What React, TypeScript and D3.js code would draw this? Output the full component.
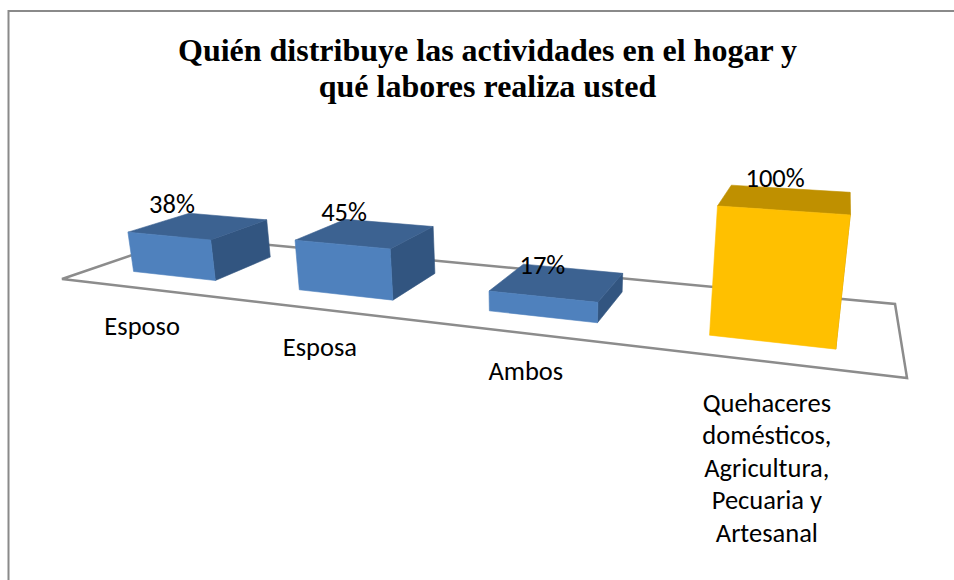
import React from "react";
import * as d3 from "d3";

const categories = ["Esposo", "Esposa", "Ambos", "Quehaceres"];
const values = [38, 45, 17, 100];
const valueLabels = ["38%", "45%", "17%", "100%"];
const categoryLines = [
  ["Esposo"],
  ["Esposa"],
  ["Ambos"],
  ["Quehaceres", "domésticos,", "Agricultura,", "Pecuaria y", "Artesanal"],
];
const titleLines = [
  "Quién distribuye las actividades en el hogar y",
  "qué labores realiza usted",
];
const barColors = [
  { front: "#4F81BD", top: "#3C6291", side: "#325580" },
  { front: "#4F81BD", top: "#3C6291", side: "#325580" },
  { front: "#4F81BD", top: "#3C6291", side: "#325580" },
  { front: "#FFC000", top: "#BF9000", side: "#BF9000" },
];

const W = 954;
const H = 580;

// Floor homography (unit square -> screen) plus a vertical vanishing point
const M = { a: 605.3, b: 157.35, c: 62, d: -0.9, e: 2.0, f: 279, g: -0.2643, h: 0.18567 };
const VP = { x: 540, y: 3087 };

const uScale = d3.scaleBand<string>().domain(categories).range([0, 0.997]).paddingInner(0.49).paddingOuter(0.245);
const vScale = d3.scaleLinear().domain([0, 1]).range([0.245, 0.755]);
const hScale = d3.scaleLinear().domain([0, 100]).range([0, -0.0373]);

function project(u: number, v: number, value: number): [number, number] {
  const t = hScale(value);
  const w = M.g * u + M.h * v + 1 + t;
  return [
    (M.a * u + M.b * v + M.c + t * VP.x) / w,
    (M.d * u + M.e * v + M.f + t * VP.y) / w,
  ];
}

const line = d3.line<[number, number]>().x((d) => d[0]).y((d) => d[1]).curve(d3.curveLinearClosed);

const LABEL_FONT = "Carlito, Calibri, Lato, sans-serif";
const LABEL_SIZE = 26.5;

export default function App() {
  const floor: [number, number][] = [
    project(0, 0, 0),
    project(1, 0, 0),
    project(1, 1, 0),
    project(0, 1, 0),
  ];
  return (
    <svg
      width={W}
      height={H}
      viewBox={`0 0 ${W} ${H}`}
      style={{ position: "absolute", left: 0, top: 0, background: "#fff" }}
    >
      <path d={`M8.5,${H}V11H${W}`} fill="none" stroke="#8a8a8a" strokeWidth={2} />
      {titleLines.map((t, i) => (
        <text
          key={t}
          x={487.5}
          y={61 + i * 36}
          textAnchor="middle"
          fontFamily="'Liberation Serif', serif"
          fontWeight="bold"
          fontSize={32}
          fill="#000"
        >
          {t}
        </text>
      ))}
      <path d={line(floor) ?? ""} fill="none" stroke="#8c8c8c" strokeWidth={2.5} strokeLinejoin="miter" />
      {categories.map((c, i) => {
        const u0 = uScale(c) ?? 0;
        const u1 = u0 + uScale.bandwidth();
        const v0 = vScale(0);
        const v1 = vScale(1);
        const val = values[i];
        const front: [number, number][] = [project(u0, v0, 0), project(u1, v0, 0), project(u1, v0, val), project(u0, v0, val)];
        const side: [number, number][] = [project(u1, v0, 0), project(u1, v1, 0), project(u1, v1, val), project(u1, v0, val)];
        const top: [number, number][] = [project(u0, v0, val), project(u1, v0, val), project(u1, v1, val), project(u0, v1, val)];
        return (
          <g key={c} strokeWidth={0.6} strokeLinejoin="round">
            <path d={line(side) ?? ""} fill={barColors[i].side} stroke={barColors[i].side} />
            <path d={line(top) ?? ""} fill={barColors[i].top} stroke={barColors[i].top} />
            <path d={line(front) ?? ""} fill={barColors[i].front} stroke={barColors[i].front} />
          </g>
        );
      })}
      {categories.map((c, i) => {
        const um = (uScale(c) ?? 0) + uScale.bandwidth() / 2;
        const lx = project(um, vScale(0), values[i] * 0.35)[0];
        const ly = project(um, vScale(0), values[i])[1];
        const [cx, cy] = project(um, 0, 0);
        const extra = categoryLines[i].length > 1 ? 3 : 0;
        return (
          <g key={c} fontFamily={LABEL_FONT} fontSize={LABEL_SIZE} fill="#000" textAnchor="middle">
            <text x={lx} y={ly - 23}>{valueLabels[i]}</text>
            {categoryLines[i].map((t, j) => (
              <text key={t} x={cx} y={cy + 47 + extra + j * 32.5}>{t}</text>
            ))}
          </g>
        );
      })}
    </svg>
  );
}
